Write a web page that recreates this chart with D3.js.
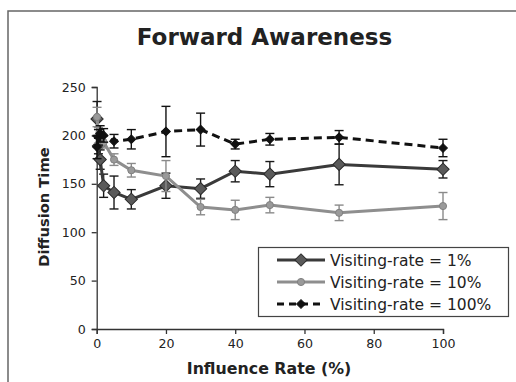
<!DOCTYPE html>
<html>
<head>
<meta charset="utf-8">
<script src="https://cdn.jsdelivr.net/npm/d3@7"></script>
<style>
    body { margin: 0; background: #fff; }
    text { font-family: 'DejaVu Sans', Verdana, sans-serif; fill: #222; }
</style>
</head>
<body>
<div id="chart"></div>
<script>
const influenceRate = [0.1, 0.5, 1, 2, 5, 10, 20, 30, 40, 50, 70, 100];
const rate1 = [217, 189, 175, 148, 141, 134, 148, 145, 163, 160, 170, 165];
const err1 = [18, 8, 10, 12, 17, 10, 13, 10, 11, 13, 21, 9];
const rate10 = [219, 200, 198, 193, 175, 164, 158, 126, 123, 128, 120, 127];
const err10 = [10, 8, 6, 6, 6, 7, 16, 8, 10, 8, 8, 14];
const rate100 = [188, 198, 202, 200, 194, 196, 204, 206, 191, 196, 198, 187];
const err100 = [12, 8, 8, 7, 7, 10, 26, 17, 5, 6, 7, 9];
const xTicks = [0, 20, 40, 60, 80, 100];
const yTicks = [0, 50, 100, 150, 200, 250];
const seriesNames = ['Visiting-rate = 1%', 'Visiting-rate = 10%', 'Visiting-rate = 100%'];

const width = 516, height = 382;
const margin = { left: 96.7, top: 87, right: 73, bottom: 53 };

const svg = d3.select('#chart').append('svg')
    .attr('width', width)
    .attr('height', height);

// scanned frame: only top and left edges visible
svg.append('path')
    .attr('d', 'M8,382 V11 H516')
    .attr('fill', 'none')
    .attr('stroke', '#666')
    .attr('stroke-width', 1.5);

const x = d3.scaleLinear().domain([0, 100]).range([margin.left, width - margin.right]);
const y = d3.scaleLinear().domain([0, 250]).range([height - margin.bottom, margin.top]);

const xAxis = svg.append('g')
    .attr('transform', `translate(0,${y(0)})`)
    .call(d3.axisBottom(x).tickValues(xTicks).tickSize(5).tickPadding(5));
const yAxis = svg.append('g')
    .attr('transform', `translate(${x(0)},0)`)
    .call(d3.axisLeft(y).tickValues(yTicks).tickSize(5).tickPadding(6));
[xAxis, yAxis].forEach(g => {
    g.select('.domain').attr('stroke', '#333').attr('stroke-width', 1.3);
    g.selectAll('.tick line').attr('stroke', '#333').attr('stroke-width', 1.3);
    g.selectAll('.tick text').attr('font-size', 12.6).attr('fill', '#222')
        .style('font-family', "'DejaVu Sans', sans-serif");
});

const series = [
    { values: rate1, errors: err1, color: '#3a3a3a', errColor: '#1a1a1a', dash: null, marker: 'diamond', size: 75, fill: '#5a5a5a', mstroke: '#2a2a2a' },
    { values: rate10, errors: err10, color: '#8e8e8e', errColor: '#8a8a8a', dash: null, marker: 'circle', size: 40, fill: '#9a9a9a', mstroke: '#808080' },
    { values: rate100, errors: err100, color: '#111', errColor: '#111', dash: '8,5', marker: 'diamond', size: 38, fill: '#111', mstroke: '#111' }
];

const line = d3.line().x(d => x(d[0])).y(d => y(d[1]));
const symbolOf = s => d3.symbol()
    .type(s.marker === 'diamond' ? d3.symbolSquare : d3.symbolCircle)
    .size(s.size);

series.forEach(s => {
    const pts = influenceRate.map((r, i) => [r, s.values[i], s.errors[i]]);
    const g = svg.append('g');

    // error bars
    const eb = g.selectAll('g.err').data(pts).enter().append('g').attr('class', 'err')
        .attr('stroke', s.errColor).attr('stroke-width', 1.4);
    eb.append('line')
        .attr('x1', d => x(d[0])).attr('x2', d => x(d[0]))
        .attr('y1', d => y(d[1] - d[2])).attr('y2', d => y(d[1] + d[2]));
    [-1, 1].forEach(sign => {
        eb.append('line')
            .attr('x1', d => x(d[0]) - 4.5).attr('x2', d => x(d[0]) + 4.5)
            .attr('y1', d => y(d[1] + sign * d[2])).attr('y2', d => y(d[1] + sign * d[2]));
    });

    g.append('path')
        .datum(pts)
        .attr('d', line)
        .attr('fill', 'none')
        .attr('stroke', s.color)
        .attr('stroke-width', 3)
        .attr('stroke-dasharray', s.dash);

    g.selectAll('path.dot').data(pts).enter().append('path')
        .attr('class', 'dot')
        .attr('d', symbolOf(s))
        .attr('transform', d => `translate(${x(d[0])},${y(d[1])})` + (s.marker === 'diamond' ? ' rotate(45)' : ''))
        .attr('fill', s.fill)
        .attr('stroke', s.mstroke)
        .attr('stroke-width', 1);
});

// legend
const legend = svg.append('g');
legend.append('rect')
    .attr('x', 258.5).attr('y', 247.5).attr('width', 250).attr('height', 69)
    .attr('fill', '#fff').attr('stroke', '#444').attr('stroke-width', 1.2);
series.forEach((s, i) => {
    const ly = 260 + i * 22;
    legend.append('line')
        .attr('x1', 277).attr('x2', 325).attr('y1', ly).attr('y2', ly)
        .attr('stroke', s.color).attr('stroke-width', 3)
        .attr('stroke-dasharray', s.dash ? '7,5' : null);
    legend.append('path')
        .attr('d', symbolOf(s))
        .attr('transform', `translate(301,${ly})` + (s.marker === 'diamond' ? ' rotate(45)' : ''))
        .attr('fill', s.fill).attr('stroke', s.mstroke);
    legend.append('text')
        .attr('x', 330).attr('y', ly + 5.5)
        .attr('font-size', 15.5)
        .text(seriesNames[i]);
});

// titles
svg.append('text')
    .attr('x', 264.5).attr('y', 45)
    .attr('text-anchor', 'middle')
    .attr('font-size', 23).attr('font-weight', 'bold')
    .text('Forward Awareness');
svg.append('text')
    .attr('x', 269).attr('y', 374)
    .attr('text-anchor', 'middle')
    .attr('font-size', 15.8).attr('font-weight', 'bold')
    .text('Influence Rate (%)');
svg.append('text')
    .attr('transform', 'translate(49,207) rotate(-90)')
    .attr('text-anchor', 'middle')
    .attr('font-size', 14.7).attr('font-weight', 'bold')
    .text('Diffusion Time');
</script>
</body>
</html>
